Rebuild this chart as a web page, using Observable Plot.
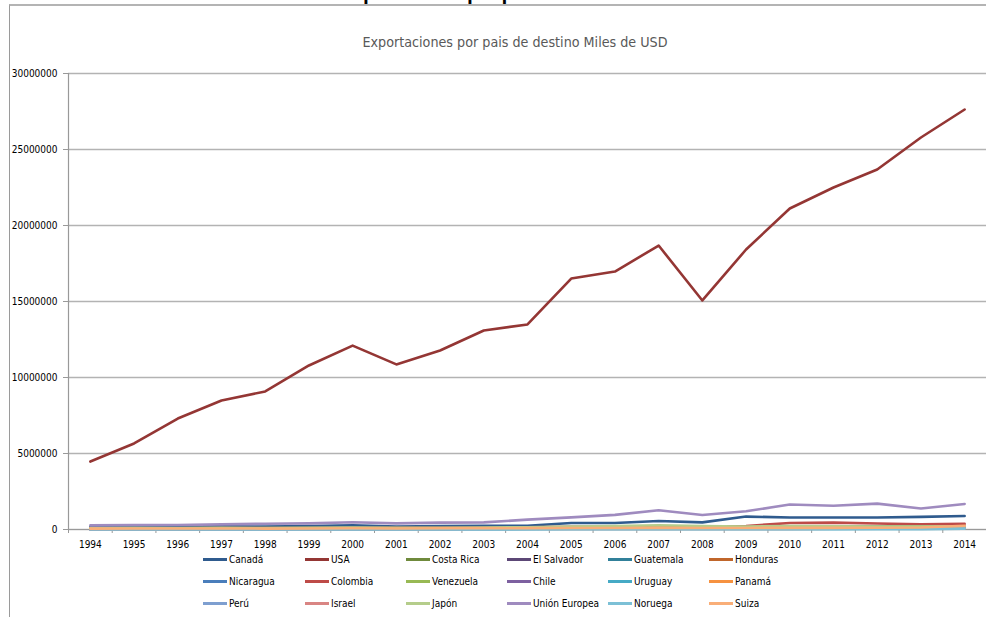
<!DOCTYPE html>
<html>
<head>
<meta charset="utf-8">
<script src="https://cdn.jsdelivr.net/npm/d3@7"></script>
<script src="https://cdn.jsdelivr.net/npm/@observablehq/plot@0.6"></script>
<style>
  html, body { margin: 0; padding: 0; background: #fff; }
  #wrap { position: relative; width: 986px; height: 617px; overflow: hidden; background: #fff; }
  #doc-title { position: absolute; left: 340px; top: -18px; line-height: 20px; white-space: nowrap;
    font: bold 20px "Liberation Serif", "DejaVu Serif", serif; color: #000; }
  #frame { position: absolute; left: 9px; top: 4px; width: 990px; height: 640px;
    border-left: 1px solid #9a9a9a; border-top: 2px solid #b4b4b4; box-sizing: border-box; }
  #subtitle { position: absolute; left: 0; width: 1030px; top: 34px; text-align: center;
    font: 14.2px "DejaVu Sans Condensed", "DejaVu Sans", sans-serif; color: #595959; }
  #chart { position: absolute; left: 0; top: 0; }
  #legend { position: absolute; left: 0; top: 0; width: 986px; height: 617px; }
  .li { position: absolute; display: flex; align-items: center; height: 16px;
    font: 10px "DejaVu Sans Condensed", "DejaVu Sans", sans-serif; color: #000; white-space: nowrap; }
  .li .sw { width: 24px; height: 3px; margin-right: 2px; }
</style>
</head>
<body>
<div id="wrap">
  <div id="doc-title">Exportaciones por país de destino</div>
  <div id="frame"></div>
  <div id="subtitle">Exportaciones por pais de destino Miles de USD</div>
  <div id="chart"></div>
  <div id="legend"></div>
</div>
<script>
// Exportaciones por país de destino, miles de USD, 1994–2014
const years = [1994, 1995, 1996, 1997, 1998, 1999, 2000, 2001, 2002, 2003, 2004,
               2005, 2006, 2007, 2008, 2009, 2010, 2011, 2012, 2013, 2014];

const countries = ["Canadá", "USA", "Costa Rica", "El Salvador", "Guatemala", "Honduras",
                   "Nicaragua", "Colombia", "Venezuela", "Chile", "Uruguay", "Panamá",
                   "Perú", "Israel", "Japón", "Unión Europea", "Noruega", "Suiza"];

const colors = ["#2f5b8e", "#943634", "#6f8a3c", "#5c4776", "#31809a", "#c0662b",
                "#4a7ebb", "#be4b48", "#98b954", "#7d60a0", "#46aac5", "#f69240",
                "#7e9fd0", "#d98583", "#b5cd8b", "#9f8bbf", "#7cc0d6", "#f9ae78"];

const canada     = [170000, 200000, 190000, 210000, 190000, 220000, 280000, 200000, 230000, 240000, 250000, 430000, 430000, 560000, 470000, 850000, 790000, 790000, 790000, 830000, 890000];
const usa        = [4470000, 5660000, 7300000, 8490000, 9080000, 10790000, 12100000, 10860000, 11780000, 13090000, 13490000, 16510000, 16970000, 18680000, 15070000, 18420000, 21120000, 22500000, 23680000, 25790000, 27630000];
const costaRica  = [60000, 70000, 70000, 80000, 80000, 90000, 90000, 80000, 90000, 100000, 110000, 120000, 130000, 150000, 140000, 130000, 150000, 160000, 170000, 170000, 180000];
const elSalvador = [40000, 50000, 50000, 50000, 60000, 60000, 60000, 60000, 70000, 70000, 80000, 90000, 100000, 110000, 100000, 100000, 110000, 120000, 120000, 130000, 130000];
const guatemala  = [70000, 80000, 80000, 90000, 90000, 100000, 110000, 100000, 110000, 120000, 130000, 140000, 150000, 170000, 160000, 150000, 170000, 180000, 190000, 190000, 200000];
const honduras   = [30000, 40000, 40000, 40000, 50000, 50000, 50000, 50000, 60000, 60000, 70000, 80000, 90000, 100000, 90000, 90000, 100000, 110000, 110000, 120000, 120000];
const nicaragua  = [20000, 30000, 30000, 30000, 30000, 40000, 40000, 40000, 40000, 50000, 50000, 60000, 70000, 80000, 70000, 70000, 80000, 90000, 90000, 100000, 100000];
const colombia   = [60000, 70000, 80000, 90000, 90000, 100000, 110000, 110000, 120000, 130000, 150000, 170000, 180000, 200000, 210000, 230000, 430000, 450000, 390000, 340000, 370000];
const venezuela  = [50000, 60000, 60000, 70000, 70000, 70000, 80000, 80000, 70000, 60000, 80000, 110000, 140000, 180000, 170000, 150000, 160000, 170000, 180000, 190000, 200000];
const chile      = [30000, 30000, 40000, 40000, 40000, 50000, 50000, 50000, 50000, 60000, 60000, 70000, 80000, 90000, 80000, 80000, 90000, 100000, 100000, 110000, 110000];
const uruguay    = [10000, 10000, 10000, 20000, 20000, 20000, 20000, 20000, 20000, 20000, 30000, 30000, 30000, 40000, 30000, 30000, 40000, 40000, 40000, 40000, 50000];
const panama     = [40000, 50000, 50000, 60000, 60000, 60000, 70000, 60000, 70000, 70000, 80000, 90000, 100000, 110000, 100000, 100000, 110000, 120000, 120000, 130000, 160000];
const peru       = [20000, 20000, 30000, 30000, 30000, 30000, 40000, 40000, 40000, 40000, 50000, 50000, 60000, 70000, 60000, 60000, 70000, 70000, 80000, 80000, 90000];
const israel     = [10000, 10000, 10000, 20000, 20000, 20000, 20000, 20000, 20000, 30000, 30000, 30000, 40000, 40000, 40000, 40000, 40000, 50000, 50000, 50000, 50000];
const japon      = [100000, 110000, 100000, 110000, 100000, 120000, 130000, 110000, 120000, 130000, 150000, 200000, 220000, 280000, 230000, 200000, 220000, 210000, 200000, 190000, 210000];
const unionEur   = [270000, 300000, 300000, 340000, 380000, 400000, 480000, 400000, 450000, 470000, 650000, 800000, 960000, 1270000, 950000, 1200000, 1640000, 1560000, 1700000, 1380000, 1680000];
const noruega    = [10000, 10000, 10000, 10000, 10000, 10000, 10000, 10000, 10000, 10000, 10000, 20000, 20000, 20000, 20000, 20000, 20000, 20000, 30000, 30000, 60000];
const suiza      = [60000, 70000, 70000, 70000, 60000, 70000, 80000, 70000, 80000, 80000, 90000, 100000, 100000, 110000, 100000, 100000, 110000, 110000, 120000, 130000, 250000];

const series = [canada, usa, costaRica, elSalvador, guatemala, honduras,
                nicaragua, colombia, venezuela, chile, uruguay, panama,
                peru, israel, japon, unionEur, noruega, suiza];

const yTicks = [0, 5000000, 10000000, 15000000, 20000000, 25000000, 30000000];

// long-format table: one row per country and year
const rows = [];
series.forEach((vals, i) => {
  vals.forEach((v, j) => rows.push({country: countries[i], year: years[j], value: v}));
});

// category boundaries between years, where the tick marks sit
const bounds = d3.range(years[0] - 0.5, years[years.length - 1] + 1, 1);

const axisFont = "10px 'DejaVu Sans Condensed', 'DejaVu Sans', sans-serif";

const chart = Plot.plot({
  width: 986,
  height: 560,
  marginTop: 73,
  marginLeft: 68,
  marginRight: 0,
  marginBottom: 31,
  style: {font: axisFont, color: "#000", background: "transparent", overflow: "visible"},
  x: {domain: [years[0] - 0.5, years[years.length - 1] + 0.5]},
  y: {domain: [0, 30000000]},
  color: {domain: countries, range: colors},
  marks: [
    Plot.gridY(yTicks, {stroke: "#b3b3b3", strokeOpacity: 1, strokeWidth: 1.3}),
    Plot.ruleX([years[0] - 0.5], {stroke: "#999", strokeWidth: 1.2}),
    Plot.ruleY([0], {stroke: "#999", strokeWidth: 1.2}),
    Plot.axisY({ticks: yTicks, tickFormat: d => String(d), tickSize: 5, tickPadding: 6, label: null, stroke: "#999"}),
    Plot.axisX({ticks: bounds, tickFormat: () => "", tickSize: 4, label: null, stroke: "#999"}),
    Plot.axisX({ticks: years, tickFormat: d => String(d), tickSize: 0, tickPadding: 11, label: null}),
    Plot.line(rows, {x: "year", y: "value", z: "country", stroke: "country", strokeWidth: 2.6,
                     strokeLinejoin: "round", strokeLinecap: "round"})
  ]
});
document.getElementById("chart").appendChild(chart);

// legend: three rows of six entries
const legend = document.getElementById("legend");
const colX = [203, 305, 406, 507, 608, 709];
const rowY = [559, 581, 603];
countries.forEach((name, i) => {
  const el = document.createElement("div");
  el.className = "li";
  el.style.left = colX[i % 6] + "px";
  el.style.top = (rowY[Math.floor(i / 6)] - 8) + "px";
  const sw = document.createElement("span");
  sw.className = "sw";
  sw.style.background = colors[i];
  const tx = document.createElement("span");
  tx.textContent = name;
  el.appendChild(sw);
  el.appendChild(tx);
  legend.appendChild(el);
});
</script>
</body>
</html>
